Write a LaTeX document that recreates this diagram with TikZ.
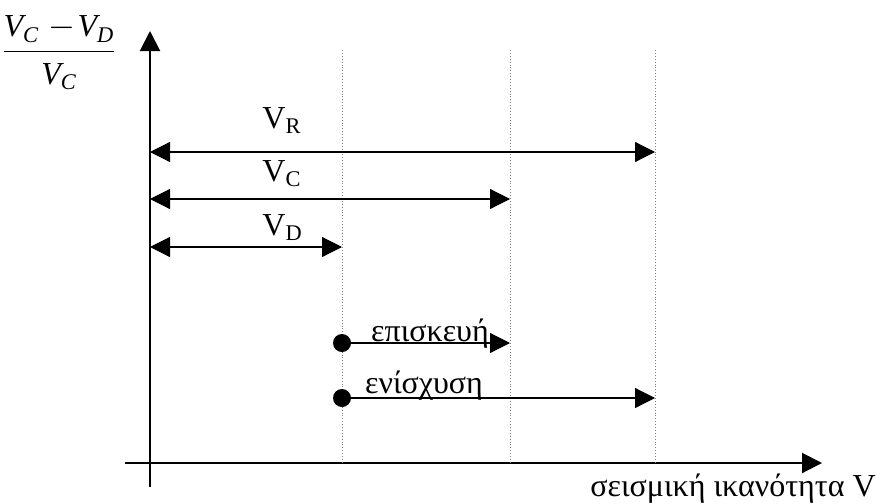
\documentclass[tikz,border=0pt]{standalone}
\usepackage{amsmath}
\usepackage{fontspec}
\setmainfont{Liberation Serif}
\usetikzlibrary{arrows.meta}
\tikzset{
  tip/.tip={Triangle[length=10pt,width=10pt]},
  axis/.style={line width=1pt,-tip},
  span/.style={line width=0.6pt,tip-tip},
  action/.style={line width=0.6pt,-tip},
  guide/.style={gray,densely dotted,line width=0.45pt},
  dot/.style={circle,fill,inner sep=0pt,minimum size=9pt},
  lbl/.style={font=\fontsize{16}{19}\selectfont,inner sep=0pt}
}
\begin{document}
\begin{tikzpicture}[x=0.5pt,y=-0.5pt]
\useasboundingbox (0,0) rectangle (876,503);
% axes
\coordinate (ybot) at (150,487); \coordinate (ytop) at (150,31);
\coordinate (xl) at (125,463); \coordinate (xr) at (822,463);
\draw[axis] (ybot)--(ytop); \draw[axis] (xl)--(xr);
\node[lbl] (yl) at (59,53) {$\dfrac{\rule[-3pt]{0pt}{0pt}\textit{V}_{\textit{C}}\mkern5mu{-}\mkern1mu\textit{V}_{\textit{D}}}{\rule{0pt}{14pt}\textit{V}_{\textit{C}}}$};
\node[lbl,anchor=base east] (xlab) at (876,496) {σεισμική ικανότητα V};
% limits
\foreach \n/\x in {D/342,C/510,R/655}{
  \coordinate (\n top) at (\x,50); \coordinate (\n bot) at (\x,463);
  \draw[guide] (\n top)--(\n bot);}
\coordinate (aR) at (150,152); \coordinate (bR) at (655,152);
\coordinate (aC) at (150,199); \coordinate (bC) at (510,199);
\coordinate (aD) at (150,247); \coordinate (bD) at (342,247);
\draw[span] (aR)--(bR); \draw[span] (aC)--(bC); \draw[span] (aD)--(bD);
\node[lbl,anchor=base west] (lR) at (262,128) {V\textsubscript{R}};
\node[lbl,anchor=base west] (lC) at (262,181) {V\textsubscript{C}};
\node[lbl,anchor=base west] (lD) at (262,235) {V\textsubscript{D}};
% interventions
\node[dot] (rep) at (342,343) {}; \coordinate (repe) at (510,343);
\node[dot] (str) at (342,398) {}; \coordinate (stre) at (655,398);
\draw[action] (rep)--(repe); \draw[action] (str)--(stre);
\node[lbl,anchor=base] (lrep) at (430,341) {επισκευή};
\node[lbl,anchor=base] (lstr) at (424,393) {ενίσχυση};
\end{tikzpicture}
\end{document}
